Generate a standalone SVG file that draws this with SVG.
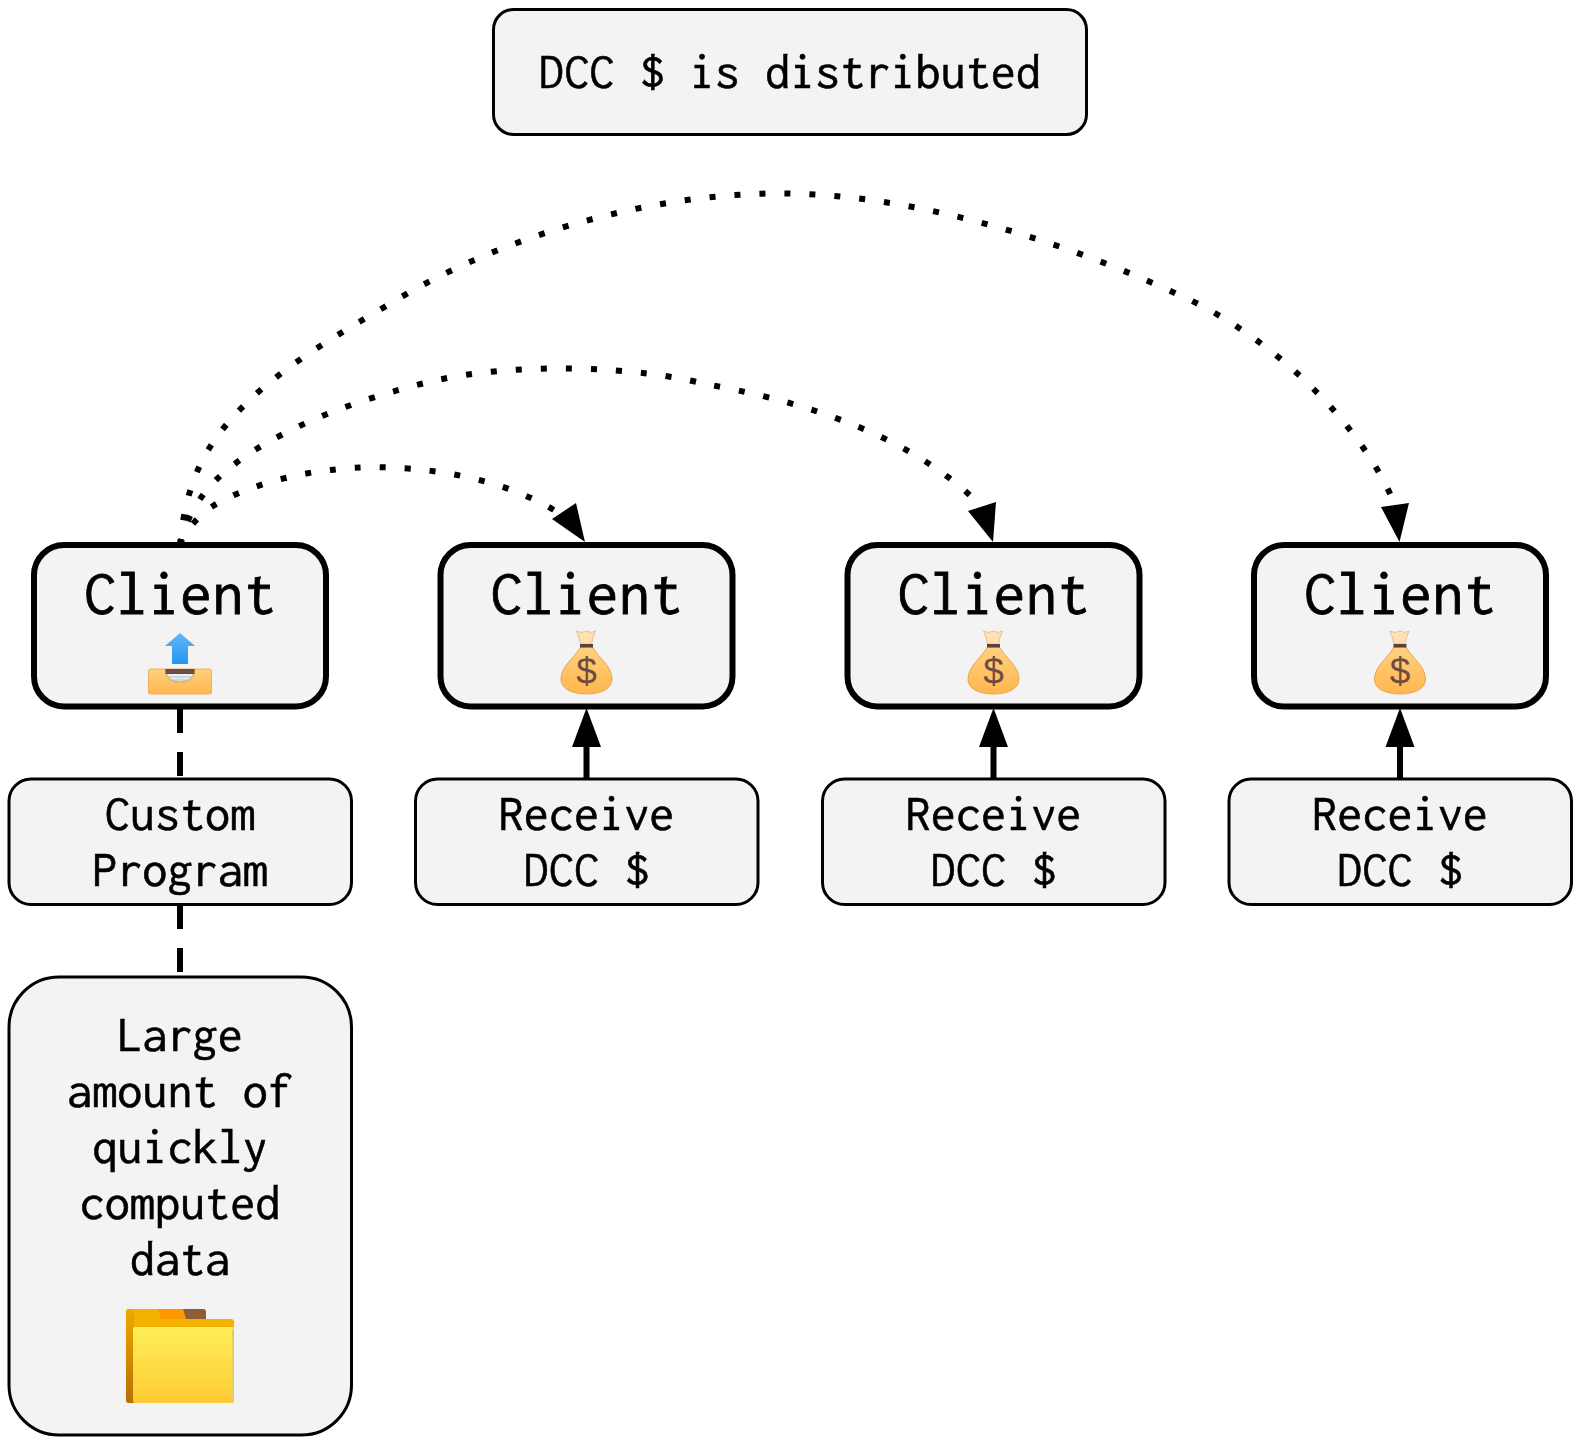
<svg xmlns="http://www.w3.org/2000/svg" width="1580" height="1444" viewBox="0 0 1580 1444">
<style>
.b{fill:#f3f3f3;stroke:#000;stroke-width:3}
.c{fill:#f3f3f3;stroke:#000;stroke-width:6}
text{font-family:"Inconsolata","Consolas","Noto Sans Mono",monospace;text-anchor:middle;fill:#000;font-size:50.200px;stroke:#000;stroke-width:.6px}
.t{font-size:64px;stroke-width:.8px}
.conn{fill:none;stroke:#000;stroke-width:6}
.dot{stroke-dasharray:6 19}
.dash{stroke-dasharray:24 19}
</style>
<defs>
<linearGradient id="bag" x1="0" y1="0" x2="0" y2="1"><stop offset="0" stop-color="#ffd180"/><stop offset="1" stop-color="#ffb74d"/></linearGradient>
<linearGradient id="arr" x1="0" y1="0" x2="0" y2="1"><stop offset="0" stop-color="#64b5f6"/><stop offset="1" stop-color="#2196f3"/></linearGradient>
<linearGradient id="fold" x1="0" y1="0" x2="0" y2="1"><stop offset="0" stop-color="#ffee58"/><stop offset="1" stop-color="#fdcb35"/></linearGradient>
<linearGradient id="fleft" x1="0" y1="0" x2="0" y2="1"><stop offset="0" stop-color="#f0a800"/><stop offset="1" stop-color="#b86e00"/></linearGradient>
<g id="money">
<path d="M-10 -57 Q-5 -54 0 -57 Q5 -54 9 -57 Q6 -50 5 -44 L-6 -44 Q-7 -50 -10 -57Z" fill="#ffe0b2" stroke="#e8c090" stroke-width="1"/>
<path d="M-6 -41 C-12 -30 -25.500 -22 -25.500 -9 C-25.500 2 -12 6 0 6 C12 6 25.500 2 25.500 -9 C25.500 -22 12 -30 6 -41Z" fill="url(#bag)" stroke="#e5a857" stroke-width="1"/>
<rect x="-6.500" y="-44" width="13" height="3.500" fill="#5d4037"/>
<text x="0" y="-4" style="font-family:'Liberation Sans',sans-serif;font-size:37px;fill:#6d4c41;stroke:none">$</text>
</g>
</defs>
<g id="connectors">
<path class="conn dot" d="M180 545C184 532 198 516 213 506C240 489 290 474 331 470C390 462 490 470 557 512"/>
<path class="conn dot" d="M180 545C185 520 200 495 217 479C250 447 320 408 433 381C520 361 640 367 705 384C785 398 900 428 975 500"/>
<path class="conn dot" d="M180 545C183 510 192 475 210 447C250 385 320 345 393 302C500 237 650 192 786 193.500C920 195 1070 243 1190 300C1270 338 1360 420 1395 505"/>
<polygon points="585,542 552,519 576,503"/>
<polygon points="993,542 968,511 996,502"/>
<polygon points="1399.500,542 1381,507 1409,503"/>
<path class="conn dash" d="M180 709V779M180 905V977"/>
<path class="conn" d="M586.500 779V745M993.500 779V745M1400 779V745"/>
<polygon points="586.500,708 572,747 601,747"/>
<polygon points="993.500,708 979,747 1008,747"/>
<polygon points="1400,708 1385.500,747 1414.500,747"/>
</g>
<g id="top"><rect class="b" x="493.500" y="9.500" width="593" height="125" rx="20"/><text x="790" y="88">DCC $ is distributed</text></g>
<g id="client1"><rect class="c" x="34" y="545" width="292" height="161.500" rx="30"/><text class="t" x="180" y="614">Client</text>
<path d="M180 633L195 646H188V664H172V646H165Z" fill="url(#arr)"/>
<rect x="148.500" y="669" width="63" height="25" rx="2" fill="url(#bag)" stroke="#f0b060" stroke-width="1"/>
<path d="M165 669H195V670C195 687 165 687 165 670Z" fill="#e8a850"/>
<path d="M166.500 669H193.500V671C193.500 685 166.500 685 166.500 671Z" fill="#eceff1"/>
<path d="M167 677H193M169 680H191" stroke="#b0bec5" stroke-width="1"/>
<rect x="165.500" y="669" width="29" height="5" fill="#6d4c41"/></g>
<g id="client2"><rect class="c" x="440.500" y="545" width="292" height="161.500" rx="30"/><text class="t" x="586.500" y="614">Client</text><use href="#money" x="586.500" y="688"/></g>
<g id="client3"><rect class="c" x="847.500" y="545" width="292" height="161.500" rx="30"/><text class="t" x="993.500" y="614">Client</text><use href="#money" x="993.500" y="688"/></g>
<g id="client4"><rect class="c" x="1254" y="545" width="292" height="161.500" rx="30"/><text class="t" x="1400" y="614">Client</text><use href="#money" x="1400" y="688"/></g>
<g id="prog"><rect class="b" x="9" y="779" width="342.500" height="125.500" rx="22"/><text x="180" y="830">Custom</text><text x="180" y="886">Program</text></g>
<g id="r2"><rect class="b" x="415.500" y="779" width="342.500" height="125.500" rx="22"/><text x="586.500" y="830">Receive</text><text x="586.500" y="886">DCC $</text></g>
<g id="r3"><rect class="b" x="822.500" y="779" width="342.500" height="125.500" rx="22"/><text x="993.500" y="830">Receive</text><text x="993.500" y="886">DCC $</text></g>
<g id="r4"><rect class="b" x="1229" y="779" width="342.500" height="125.500" rx="22"/><text x="1400" y="830">Receive</text><text x="1400" y="886">DCC $</text></g>
<g id="data"><rect class="b" x="9" y="977" width="342.500" height="458" rx="50"/>
<text x="180" y="1051">Large</text><text x="180" y="1107">amount of</text><text x="180" y="1163">quickly</text><text x="180" y="1219">computed</text><text x="180" y="1275">data</text>
<path d="M126 1312Q126 1309 129 1309H203Q206 1309 206 1312V1319H231Q234 1319 234 1322V1400Q234 1403 231 1403H129Q126 1403 126 1400Z" fill="#f3b200"/>
<path d="M158 1309H183L186 1319H161Z" fill="#ff9800"/><path d="M183 1309H203Q206 1309 206 1312V1319H186Z" fill="#8d5e35"/>
<path d="M126 1312Q126 1309 129 1309H134V1403H129Q126 1403 126 1400Z" fill="url(#fleft)"/>
<rect x="133" y="1327" width="101" height="76" rx="2" fill="url(#fold)"/>
<path d="M233 1329V1402" stroke="#e0d060" stroke-width="2"/></g>
</svg>
